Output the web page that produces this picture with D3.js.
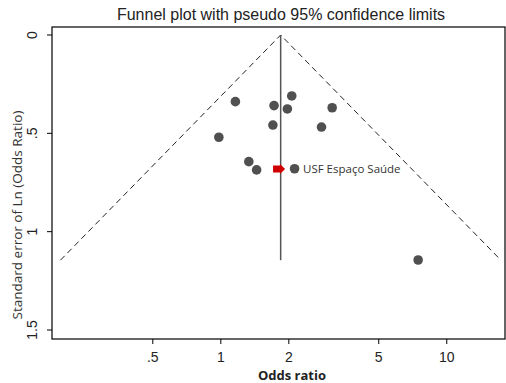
<!DOCTYPE html>
<html>
<head>
<meta charset="utf-8">
<script src="https://cdn.jsdelivr.net/npm/d3@7"></script>
<style>
  body { margin: 0; background: #fff; }
  svg { display: block; }
</style>
</head>
<body>
<script>
  // studies (odds ratio, standard error of ln OR)
  var studyOR = [1.16, 1.72, 2.06, 1.97, 3.11, 1.70, 2.79, 0.98, 1.33, 1.44, 2.12, 7.47];
  var studySE = [0.339, 0.359, 0.310, 0.376, 0.370, 0.458, 0.468, 0.520, 0.644, 0.686, 0.680, 1.144];

  // highlighted unit
  var highlightName = "USF Espaço Saúde";
  var highlightOR = 1.81;
  var highlightSE = 0.681;

  var pooledOR = 1.84;
  var maxSE = 1.145;

  var xTicks = [0.5, 1, 2, 5, 10];
  var xTickLabels = [".5", "1", "2", "5", "10"];
  var yTicks = [0, 0.5, 1, 1.5];
  var yTickLabels = ["0", ".5", "1", "1.5"];

  var width = 506, height = 383;
  // plot frame (note: "top" is a reserved window prop, so prefixed names)
  var frameL = 52, frameR = 505, frameT = 27, frameB = 339;

  var svg = d3.select("body").append("svg")
    .attr("width", width)
    .attr("height", height);

  var x = d3.scaleLog().domain([0.179, 18.1]).range([frameL, frameR]);
  var y = d3.scaleLinear().domain([0, 1.5]).range([35, 330]);

  // frame
  svg.append("rect")
    .attr("x", frameL).attr("y", frameT)
    .attr("width", frameR - frameL).attr("height", frameB - frameT)
    .attr("fill", "none").attr("stroke", "#000").attr("stroke-width", 1.2);

  // funnel limits
  var z = 1.96;
  var lp = Math.log(pooledOR);
  var funnel = [[Math.exp(lp - z * maxSE), maxSE], [pooledOR, 0], [Math.exp(lp + z * maxSE), maxSE]];
  svg.append("path")
    .attr("d", d3.line().x(function(d) { return x(d[0]); }).y(function(d) { return y(d[1]); })(funnel))
    .attr("fill", "none").attr("stroke", "#222").attr("stroke-width", 1)
    .attr("stroke-dasharray", "6,4");

  // pooled estimate
  svg.append("line")
    .attr("x1", x(pooledOR)).attr("x2", x(pooledOR))
    .attr("y1", y(0)).attr("y2", y(maxSE))
    .attr("stroke", "#555").attr("stroke-width", 1.5);

  // x axis
  var xAxis = svg.append("g");
  xTicks.forEach(function(t, i) {
    xAxis.append("line")
      .attr("x1", x(t)).attr("x2", x(t))
      .attr("y1", frameB).attr("y2", frameB + 5)
      .attr("stroke", "#000");
    xAxis.append("text")
      .attr("x", x(t)).attr("y", 362)
      .attr("text-anchor", "middle")
      .style("font-family", "Liberation Sans, Arial, sans-serif")
      .style("font-size", "14px").attr("fill", "#222")
      .text(xTickLabels[i]);
  });
  svg.append("text")
    .attr("x", 292).attr("y", 380)
    .attr("text-anchor", "middle")
    .style("font-family", "Open Sans, sans-serif")
    .style("font-size", "13px").style("font-weight", "bold").attr("fill", "#222")
    .text("Odds ratio");

  // y axis
  var yAxis = svg.append("g");
  yTicks.forEach(function(t, i) {
    yAxis.append("line")
      .attr("x1", frameL - 5).attr("x2", frameL)
      .attr("y1", y(t)).attr("y2", y(t))
      .attr("stroke", "#000");
    yAxis.append("text")
      .attr("transform", "translate(37," + y(t) + ") rotate(-90)")
      .attr("text-anchor", "middle")
      .style("font-family", "Liberation Sans, Arial, sans-serif")
      .style("font-size", "14px").attr("fill", "#222")
      .text(yTickLabels[i]);
  });
  svg.append("text")
    .attr("transform", "translate(22,215) rotate(-90)")
    .attr("text-anchor", "middle")
    .style("font-family", "Open Sans, sans-serif")
    .style("font-size", "13.5px").attr("fill", "#333")
    .text("Standard error of Ln (Odds Ratio)");

  // title
  svg.append("text")
    .attr("x", 281).attr("y", 20)
    .attr("text-anchor", "middle")
    .style("font-family", "Liberation Sans, Arial, sans-serif")
    .style("font-size", "16px").attr("fill", "#222")
    .text("Funnel plot with pseudo 95% confidence limits");

  // study points
  svg.selectAll(".pt")
    .data(studyOR)
    .enter().append("circle")
    .attr("class", "pt")
    .attr("cx", function(d) { return x(d); })
    .attr("cy", function(d, i) { return y(studySE[i]); })
    .attr("r", 4.8)
    .attr("fill", "#505050");

  // highlighted marker (arrow)
  var hx = x(highlightOR), hy = y(highlightSE);
  svg.append("path")
    .attr("d", "M" + (hx - 6) + "," + (hy - 3.5) + "H" + (hx + 1) + "V" + (hy - 5) +
      "L" + (hx + 6) + "," + hy + "L" + (hx + 1) + "," + (hy + 5) + "V" + (hy + 3.5) +
      "H" + (hx - 6) + "Z")
    .attr("fill", "#d00000");
  svg.append("text")
    .attr("x", 303).attr("y", hy + 4)
    .style("font-family", "Open Sans, sans-serif")
    .style("font-size", "11.5px").attr("fill", "#333")
    .text(highlightName);
</script>
</body>
</html>
